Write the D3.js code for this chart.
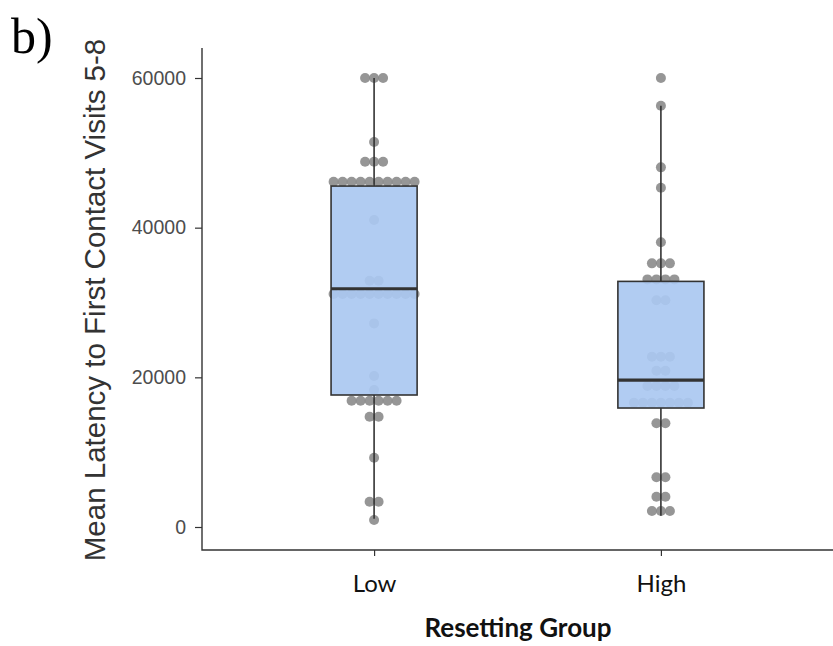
<!DOCTYPE html>
<html>
<head>
  <meta charset="utf-8">
  <title>Resetting Group boxplot</title>
  <script src="https://d3js.org/d3.v7.min.js"></script>
  <style>
    body { margin: 0; background: #fff; }
    svg { display: block; }
    .tick text { font-family: "Liberation Sans", Arial, sans-serif; font-size: 19.5px; fill: #4d4d4d; }
    .tick line { stroke: #333; stroke-width: 1.2; }
    .dot { fill: #888; opacity: 0.88; }
    .box { fill: #aac8f1; fill-opacity: 0.92; stroke: #333; stroke-width: 1.6; }
    .whisker { stroke: #333; stroke-width: 1.6; }
    .median { stroke: #333; stroke-width: 3.2; }
  </style>
</head>
<body>
  <svg id="chart" width="833" height="646"></svg>

  <script>
    // Data
    const groups = ["Low", "High"];

    const lowValues = [
      60000, 60000, 60000, 51440, 48800, 48800, 48800,
      46130, 46130, 46130, 46130, 46130, 46130, 46130, 46130, 46130, 46130,
      41020, 32900, 32900,
      31130, 31130, 31130, 31130, 31130, 31130, 31130, 31130, 31130, 31130,
      27210, 20170, 18300,
      16870, 16870, 16870, 16870, 16870, 16870,
      14730, 14730, 9260, 3380, 3380, 935
    ];

    const highValues = [
      60000, 56290, 48060, 45340, 38040,
      35230, 35230, 35230, 33090, 33090, 33090, 33090,
      30300, 30300, 22750, 22750, 22750, 20880, 20880,
      18840, 18840, 18840, 18840,
      16610, 16610, 16610, 16610, 16610, 16610, 16610,
      13860, 13860, 6640, 6640, 4050, 4050, 2140, 2140, 2140
    ];

    // box statistics: whisker low, q1, median, q3, whisker high
    const lowBox = [1100, 17640, 31840, 45560, 60000];
    const highBox = [1500, 15900, 19640, 32820, 56290];

    const yTicks = [0, 20000, 40000, 60000];

    const series = [
      { group: "Low", values: lowValues, box: lowBox },
      { group: "High", values: highValues, box: highBox }
    ];

    const svg = d3.select("#chart");

    const mLeft = 202, mRight = 833, mTop = 48, mBottom = 550;

    const x = d3.scalePoint().domain(groups).range([mLeft, mRight]).padding(0.6);
    const y = d3.scaleLinear().domain([0, 60000]).range([527, 78]);
    const boxHalf = x.step() * 0.15;
    const dotStep = 9;

    // dots, stacked sideways around the group centre
    series.forEach(s => {
      const counts = d3.rollups(s.values, v => v.length, d => d);
      counts.forEach(([val, n]) => {
        for (let i = 0; i < n; i++) {
          svg.append("circle")
            .attr("class", "dot")
            .attr("cx", x(s.group) + (i - (n - 1) / 2) * dotStep)
            .attr("cy", y(val))
            .attr("r", 5);
        }
      });
    });

    // boxes
    series.forEach(s => {
      const [lo, q1, med, q3, hi] = s.box;
      const cx = x(s.group);
      svg.append("line").attr("class", "whisker")
        .attr("x1", cx).attr("x2", cx).attr("y1", y(q3)).attr("y2", y(hi));
      svg.append("line").attr("class", "whisker")
        .attr("x1", cx).attr("x2", cx).attr("y1", y(q1)).attr("y2", y(lo));
      svg.append("rect").attr("class", "box")
        .attr("x", cx - boxHalf).attr("width", boxHalf * 2)
        .attr("y", y(q3)).attr("height", y(q1) - y(q3));
      svg.append("line").attr("class", "median")
        .attr("x1", cx - boxHalf).attr("x2", cx + boxHalf)
        .attr("y1", y(med)).attr("y2", y(med));
    });

    // axes
    const yAxis = svg.append("g")
      .attr("transform", `translate(${mLeft},0)`)
      .call(d3.axisLeft(y).tickValues(yTicks).tickFormat(d3.format("d")).tickSize(7).tickPadding(9));
    yAxis.select(".domain").remove();

    const xAxis = svg.append("g")
      .attr("transform", `translate(0,${mBottom})`)
      .call(d3.axisBottom(x).tickSize(6).tickPadding(19));
    xAxis.select(".domain").remove();
    xAxis.selectAll(".tick text")
      .style("font-family", "Lato, 'Open Sans', sans-serif")
      .style("font-size", "24px")
      .style("fill", "#111");

    svg.append("path")
      .attr("d", `M${mLeft},${mTop}V${mBottom}H${mRight}`)
      .attr("fill", "none")
      .attr("stroke", "#333")
      .attr("stroke-width", 1.4);

    // titles
    svg.append("text")
      .attr("transform", `translate(105,300) rotate(-90)`)
      .attr("text-anchor", "middle")
      .style("font-family", "'Liberation Sans', Arial, sans-serif")
      .style("font-size", "29.5px")
      .style("fill", "#333")
      .text("Mean Latency to First Contact Visits 5-8");

    svg.append("text")
      .attr("x", 518)
      .attr("y", 637)
      .attr("text-anchor", "middle")
      .style("font-family", "Lato, 'Open Sans', sans-serif")
      .style("font-size", "26px")
      .style("font-weight", "bold")
      .style("fill", "#111")
      .text("Resetting Group");

    svg.append("text")
      .attr("x", 11)
      .attr("y", 53)
      .style("font-family", "'Liberation Serif', 'Times New Roman', serif")
      .style("font-size", "50px")
      .style("fill", "#000")
      .text("b)");
  </script>
</body>
</html>
